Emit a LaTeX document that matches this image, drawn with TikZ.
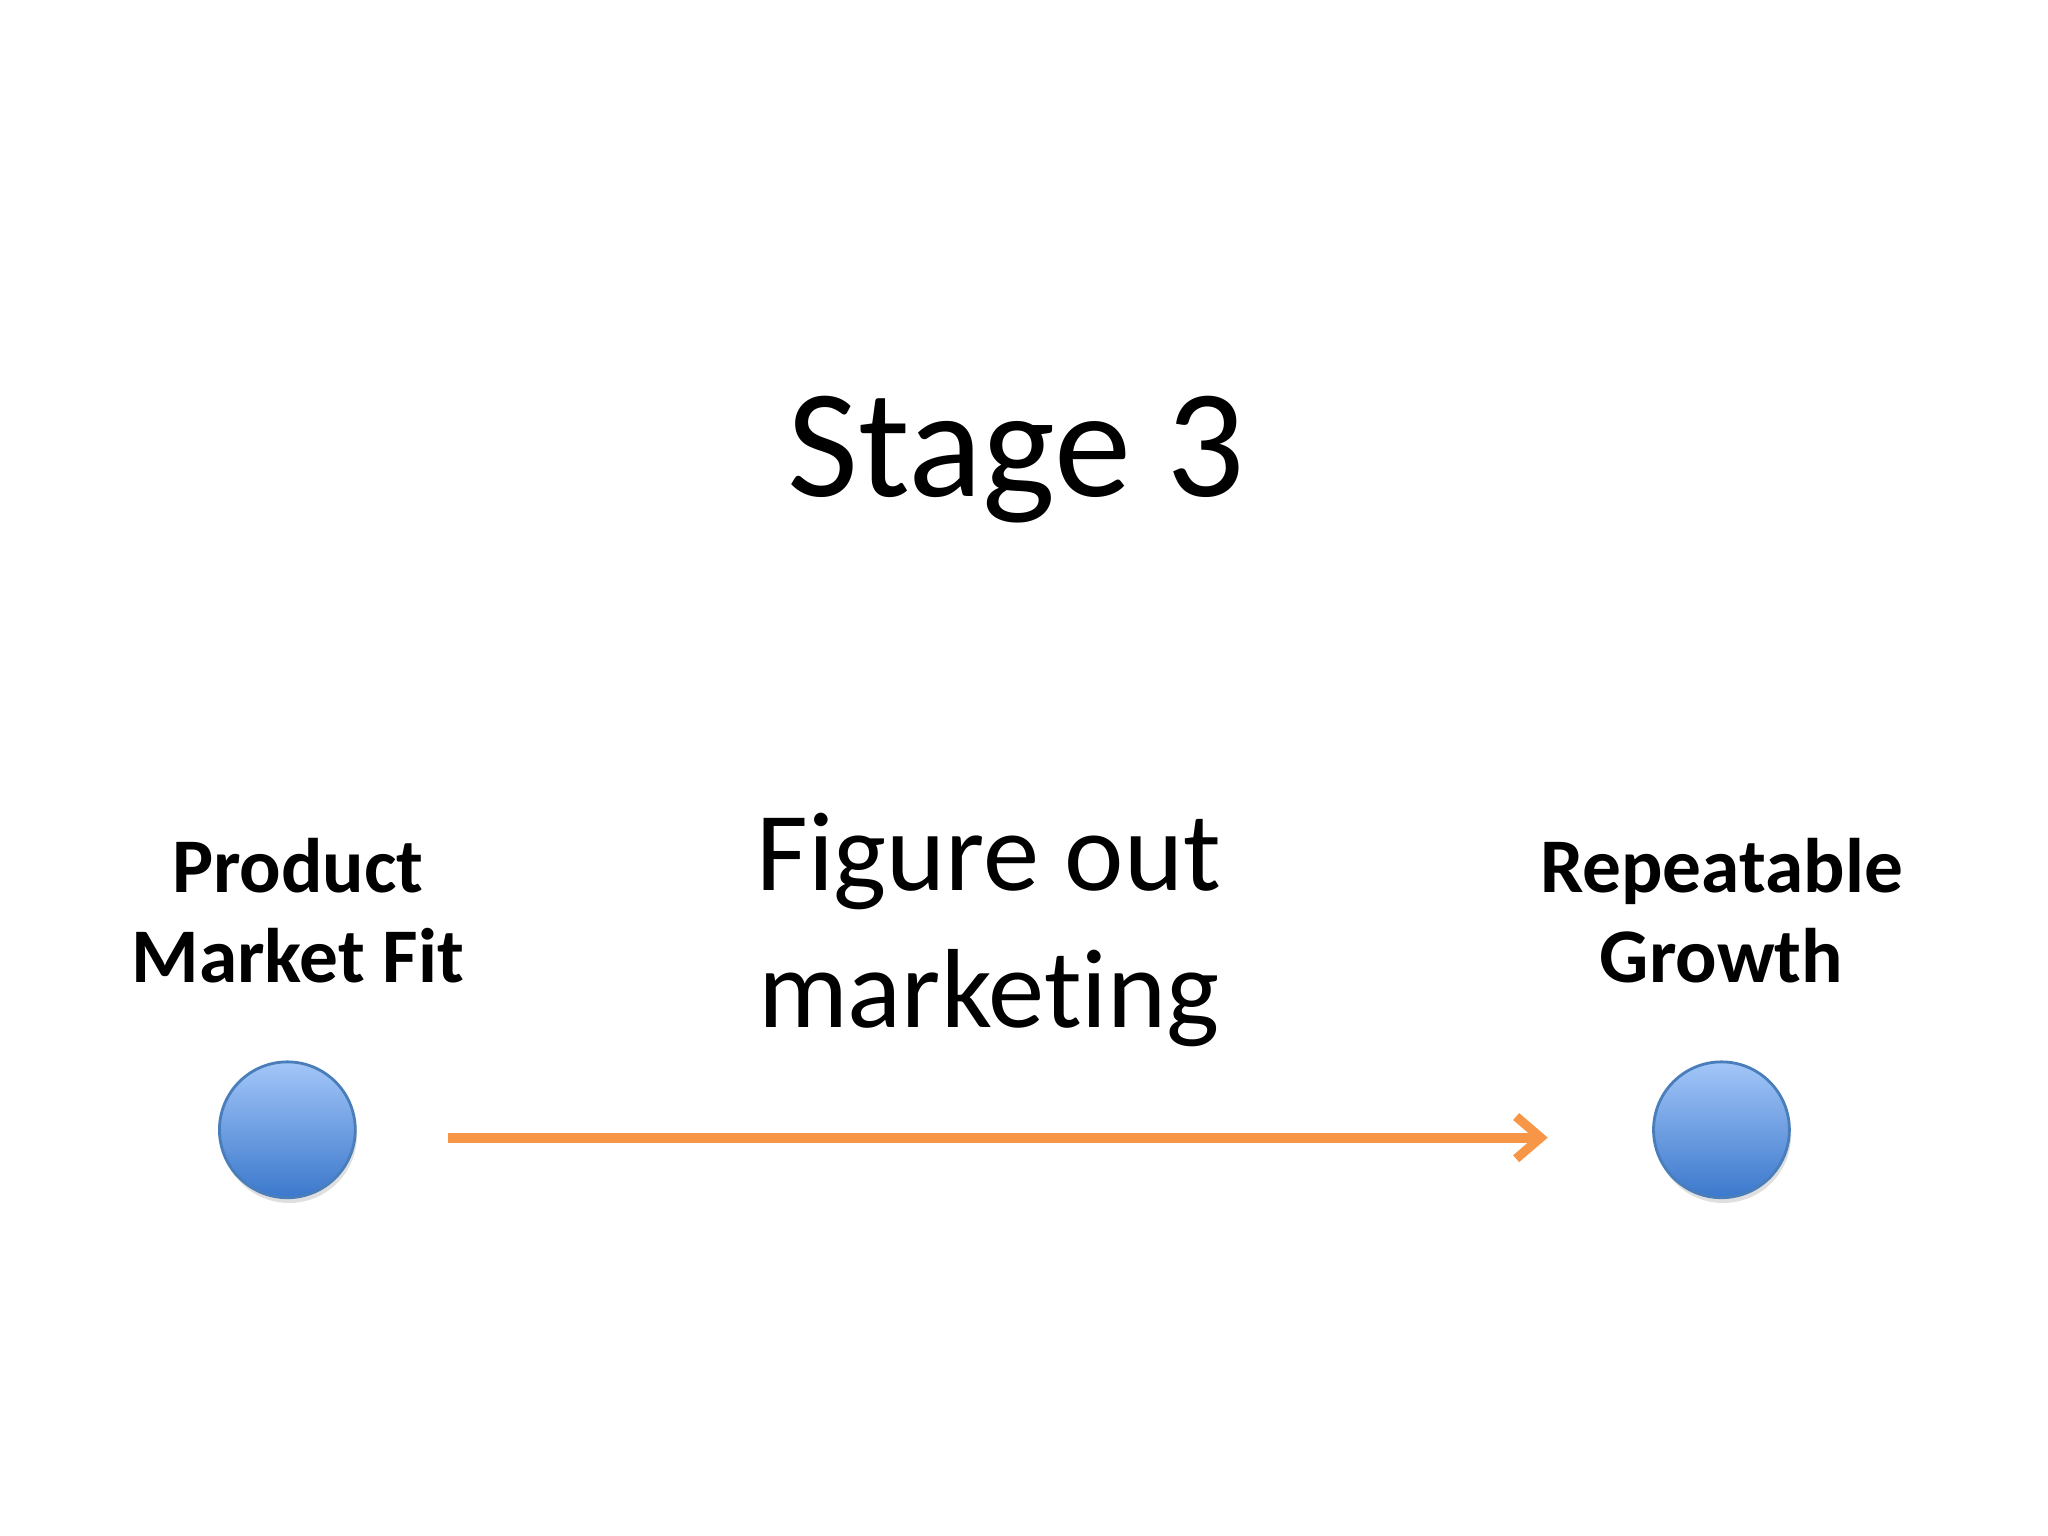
\documentclass[tikz,border=0pt]{standalone}
\usepackage{fontspec}
\setmainfont{Carlito}[Ligatures={NoCommon}]
\usetikzlibrary{arrows.meta,shadows}
\definecolor{orng}{HTML}{F79646}
\definecolor{ctop}{HTML}{A3C6F8}
\definecolor{cbot}{HTML}{3B78CC}
\definecolor{cbord}{HTML}{4A7EBB}
\begin{document}
\begin{tikzpicture}[x=0.01306cm,y=-0.01306cm,
  dot/.style={circle,minimum size=104*0.01306cm,draw=cbord,line width=0.8pt,top color=ctop,bottom color=cbot,drop shadow={opacity=0.25,shadow xshift=0.5pt,shadow yshift=-1.5pt}},
  lbl/.style={font=\fontsize{22}{25.6}\selectfont\bfseries,align=center,anchor=base},
  conn/.style={draw=orng,line width=2.8pt,-{Straight Barb[length=7pt,width=12pt,line width=2.6pt]}}]
\useasboundingbox (0,0) rectangle (1568,1176);
\node[font=\fontsize{44}{50}\selectfont,anchor=base] (title) at (778,380) {Stage 3};
\node[font=\fontsize{32}{39}\selectfont,align=center,anchor=base] (mid) at (757,787) {Figure out\\marketing};
\node[lbl] (l1) at (228,752) {Product\\Market Fit};
\node[lbl] (l2) at (1318,752) {Repeatable\\Growth};
\node[dot] (a) at (220,865) {};
\node[dot] (b) at (1318,865) {};
\coordinate (s) at (343,871);
\coordinate (e) at (1185,871);
\draw[conn] (s) -- (e);
\end{tikzpicture}
\end{document}
